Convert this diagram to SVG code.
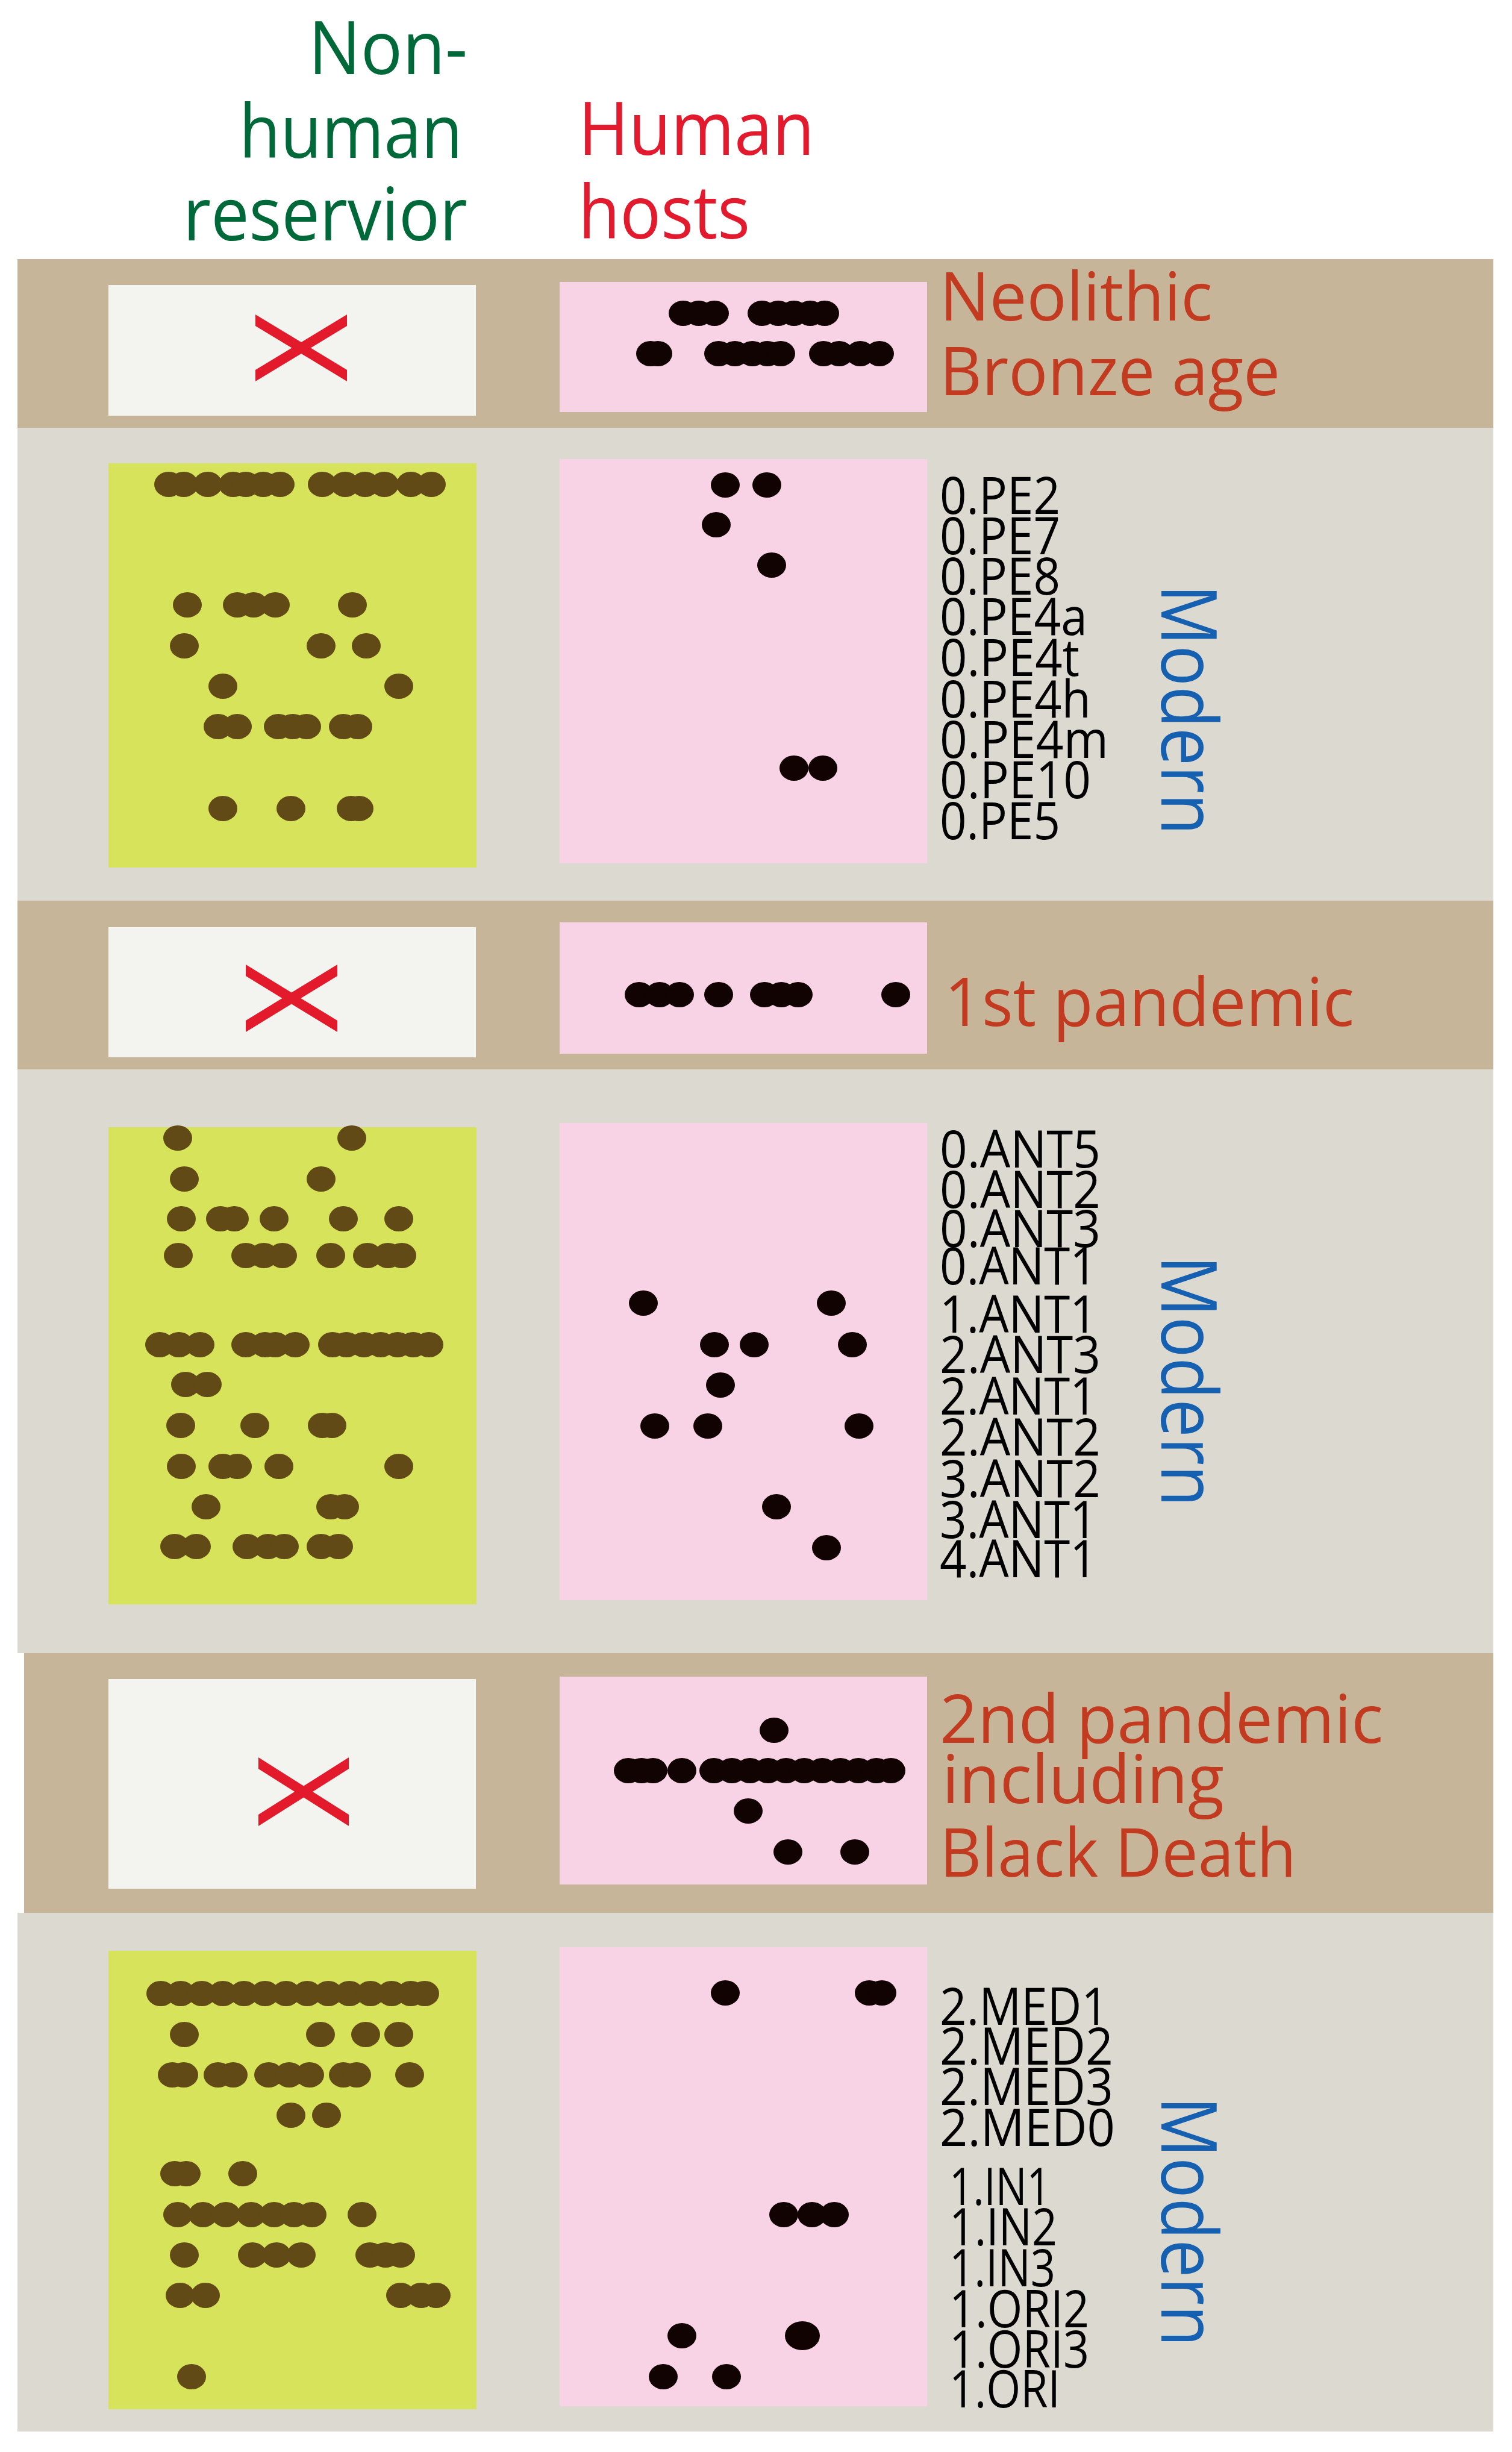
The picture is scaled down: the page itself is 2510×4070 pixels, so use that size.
<svg xmlns="http://www.w3.org/2000/svg" xmlns:xlink="http://www.w3.org/1999/xlink" width="2510" height="4070" viewBox="0 0 2510 4070">
<style>
text{font-family:"Open Sans","Liberation Sans",sans-serif}
.tg{font-size:122px;fill:#00693a}
.tr{font-size:122px;fill:#e3192e}
.per{font-size:112px;fill:#c23a1f}
.lab{font-size:86px;fill:#000}
.mod{font-size:128px;fill:#1560b0}
.tan{fill:#c7b59a}
.grey{fill:#dcd9d1}
.wbox{fill:#f3f4ef}
.pbox{fill:#f8d3e6}
.gbox{fill:#d8e35c}
.x{fill:#e3192c}
</style>
<defs>
<ellipse id="g" cx="0" cy="0" rx="24" ry="21" fill="#614a16"/>
<ellipse id="b" cx="0" cy="0" rx="24" ry="21" fill="#120303"/>
</defs>
<rect width="2510" height="4070" fill="#ffffff"/>

<g id="headers">
<text class="tg" x="512" y="123" textLength="264" lengthAdjust="spacingAndGlyphs">Non-</text>
<text class="tg" x="397" y="262" textLength="371" lengthAdjust="spacingAndGlyphs">human</text>
<text class="tg" x="304" y="399" textLength="472" lengthAdjust="spacingAndGlyphs">reservior</text>
<text class="tr" x="960" y="257" textLength="392" lengthAdjust="spacingAndGlyphs">Human</text>
<text class="tr" x="960" y="396" textLength="285" lengthAdjust="spacingAndGlyphs">hosts</text>
</g>

<g id="bands">
<rect class="tan" x="29" y="430" width="2450" height="280"/>
<rect class="grey" x="29" y="710" width="2450" height="785"/>
<rect class="tan" x="29" y="1495" width="2450" height="280"/>
<rect class="grey" x="29" y="1775" width="2450" height="969"/>
<rect class="tan" x="40" y="2744" width="2439" height="431"/>
<rect class="grey" x="29" y="3175" width="2450" height="861"/>
</g>

<g id="neolithic">
<rect class="wbox" x="180" y="473" width="610" height="217"/>
<polygon class="x" points="424,522 424,541 576,633 576,614"/>
<polygon class="x" points="576,522 576,541 424,633 424,614"/>
<rect class="pbox" x="929" y="468" width="610" height="216"/>
<use xlink:href="#b" x="1134" y="520"/><use xlink:href="#b" x="1160" y="520"/><use xlink:href="#b" x="1186" y="520"/>
<use xlink:href="#b" x="1265" y="520"/><use xlink:href="#b" x="1292" y="520"/><use xlink:href="#b" x="1318" y="520"/><use xlink:href="#b" x="1345" y="520"/><use xlink:href="#b" x="1369" y="520"/>
<use xlink:href="#b" x="1080" y="587"/><use xlink:href="#b" x="1092" y="587"/>
<use xlink:href="#b" x="1193" y="587"/><use xlink:href="#b" x="1220" y="587"/><use xlink:href="#b" x="1249" y="587"/><use xlink:href="#b" x="1274" y="587"/><use xlink:href="#b" x="1296" y="587"/>
<use xlink:href="#b" x="1367" y="587"/><use xlink:href="#b" x="1393" y="587"/><use xlink:href="#b" x="1428" y="587"/><use xlink:href="#b" x="1460" y="587"/>
<text class="per" x="1560" y="532" textLength="453" lengthAdjust="spacingAndGlyphs">Neolithic</text>
<text class="per" x="1560" y="656" textLength="565" lengthAdjust="spacingAndGlyphs">Bronze age</text>
</g>

<g id="modern1">
<rect class="gbox" x="180" y="769" width="611" height="671"/>
<use xlink:href="#g" x="280" y="804"/><use xlink:href="#g" x="305" y="804"/><use xlink:href="#g" x="345" y="804"/><use xlink:href="#g" x="387" y="804"/><use xlink:href="#g" x="408" y="804"/><use xlink:href="#g" x="437" y="804"/><use xlink:href="#g" x="465" y="804"/>
<use xlink:href="#g" x="535" y="804"/><use xlink:href="#g" x="573" y="804"/><use xlink:href="#g" x="606" y="804"/><use xlink:href="#g" x="638" y="804"/><use xlink:href="#g" x="682" y="804"/><use xlink:href="#g" x="716" y="804"/>
<use xlink:href="#g" x="311" y="1004"/><use xlink:href="#g" x="394" y="1004"/><use xlink:href="#g" x="421" y="1004"/><use xlink:href="#g" x="457" y="1004"/><use xlink:href="#g" x="585" y="1004"/>
<use xlink:href="#g" x="306" y="1072"/><use xlink:href="#g" x="533" y="1072"/><use xlink:href="#g" x="608" y="1072"/>
<use xlink:href="#g" x="370" y="1139"/><use xlink:href="#g" x="662" y="1139"/>
<use xlink:href="#g" x="362" y="1206"/><use xlink:href="#g" x="394" y="1206"/><use xlink:href="#g" x="462" y="1206"/><use xlink:href="#g" x="486" y="1206"/><use xlink:href="#g" x="509" y="1206"/><use xlink:href="#g" x="570" y="1206"/><use xlink:href="#g" x="594" y="1206"/>
<use xlink:href="#g" x="370" y="1342"/><use xlink:href="#g" x="483" y="1342"/><use xlink:href="#g" x="583" y="1342"/><use xlink:href="#g" x="596" y="1342"/>
<rect class="pbox" x="929" y="762" width="610" height="671"/>
<use xlink:href="#b" x="1204" y="805"/><use xlink:href="#b" x="1273" y="805"/>
<use xlink:href="#b" x="1189" y="871"/>
<use xlink:href="#b" x="1281" y="938"/>
<use xlink:href="#b" x="1318" y="1275"/><use xlink:href="#b" x="1366" y="1275"/>
<text class="lab" x="1560" y="853" textLength="200" lengthAdjust="spacingAndGlyphs">0.PE2</text>
<text class="lab" x="1560" y="920" textLength="200" lengthAdjust="spacingAndGlyphs">0.PE7</text>
<text class="lab" x="1560" y="987" textLength="200" lengthAdjust="spacingAndGlyphs">0.PE8</text>
<text class="lab" x="1560" y="1054" textLength="245" lengthAdjust="spacingAndGlyphs">0.PE4a</text>
<text class="lab" x="1560" y="1122" textLength="232" lengthAdjust="spacingAndGlyphs">0.PE4t</text>
<text class="lab" x="1560" y="1191" textLength="251" lengthAdjust="spacingAndGlyphs">0.PE4h</text>
<text class="lab" x="1560" y="1258" textLength="280" lengthAdjust="spacingAndGlyphs">0.PE4m</text>
<text class="lab" x="1560" y="1325" textLength="251" lengthAdjust="spacingAndGlyphs">0.PE10</text>
<text class="lab" x="1560" y="1393" textLength="200" lengthAdjust="spacingAndGlyphs">0.PE5</text>
<text class="mod" transform="translate(1928,970) rotate(90)" textLength="416" lengthAdjust="spacingAndGlyphs">Modern</text>
</g>

<g id="pandemic1">
<rect class="wbox" x="180" y="1539" width="610" height="216"/>
<polygon class="x" points="408,1601 408,1620 560,1713 560,1694"/>
<polygon class="x" points="560,1601 560,1620 408,1713 408,1694"/>
<rect class="pbox" x="929" y="1531" width="610" height="218"/>
<use xlink:href="#b" x="1061" y="1651"/><use xlink:href="#b" x="1095" y="1651"/><use xlink:href="#b" x="1128" y="1651"/>
<use xlink:href="#b" x="1193" y="1651"/>
<use xlink:href="#b" x="1269" y="1651"/><use xlink:href="#b" x="1297" y="1651"/><use xlink:href="#b" x="1325" y="1651"/>
<use xlink:href="#b" x="1487" y="1651"/>
<text class="per" x="1568" y="1703" textLength="680" lengthAdjust="spacingAndGlyphs">1st pandemic</text>
</g>

<g id="modern2">
<rect class="gbox" x="180" y="1871" width="611" height="792"/>
<use xlink:href="#g" x="295" y="1889"/><use xlink:href="#g" x="584" y="1889"/>
<use xlink:href="#g" x="306" y="1957"/><use xlink:href="#g" x="533" y="1957"/>
<use xlink:href="#g" x="301" y="2023"/><use xlink:href="#g" x="366" y="2023"/><use xlink:href="#g" x="389" y="2023"/><use xlink:href="#g" x="455" y="2023"/><use xlink:href="#g" x="570" y="2023"/><use xlink:href="#g" x="662" y="2023"/>
<use xlink:href="#g" x="296" y="2084"/><use xlink:href="#g" x="408" y="2084"/><use xlink:href="#g" x="438" y="2084"/><use xlink:href="#g" x="469" y="2084"/><use xlink:href="#g" x="549" y="2084"/><use xlink:href="#g" x="610" y="2084"/><use xlink:href="#g" x="644" y="2084"/><use xlink:href="#g" x="667" y="2084"/>
<use xlink:href="#g" x="265" y="2232"/><use xlink:href="#g" x="297" y="2232"/><use xlink:href="#g" x="332" y="2232"/>
<use xlink:href="#g" x="408" y="2232"/><use xlink:href="#g" x="440" y="2232"/><use xlink:href="#g" x="457" y="2232"/><use xlink:href="#g" x="490" y="2232"/>
<use xlink:href="#g" x="552" y="2232"/><use xlink:href="#g" x="575" y="2232"/><use xlink:href="#g" x="604" y="2232"/><use xlink:href="#g" x="632" y="2232"/><use xlink:href="#g" x="660" y="2232"/><use xlink:href="#g" x="686" y="2232"/><use xlink:href="#g" x="712" y="2232"/>
<use xlink:href="#g" x="308" y="2298"/><use xlink:href="#g" x="344" y="2298"/>
<use xlink:href="#g" x="300" y="2366"/><use xlink:href="#g" x="423" y="2366"/><use xlink:href="#g" x="535" y="2366"/><use xlink:href="#g" x="551" y="2366"/>
<use xlink:href="#g" x="301" y="2434"/><use xlink:href="#g" x="370" y="2434"/><use xlink:href="#g" x="394" y="2434"/><use xlink:href="#g" x="463" y="2434"/><use xlink:href="#g" x="662" y="2434"/>
<use xlink:href="#g" x="342" y="2501"/><use xlink:href="#g" x="549" y="2501"/><use xlink:href="#g" x="572" y="2501"/>
<use xlink:href="#g" x="290" y="2567"/><use xlink:href="#g" x="326" y="2567"/><use xlink:href="#g" x="410" y="2567"/><use xlink:href="#g" x="445" y="2567"/><use xlink:href="#g" x="472" y="2567"/><use xlink:href="#g" x="533" y="2567"/><use xlink:href="#g" x="562" y="2567"/>
<rect class="pbox" x="929" y="1864" width="610" height="792"/>
<use xlink:href="#b" x="1068" y="2163"/><use xlink:href="#b" x="1380" y="2163"/>
<use xlink:href="#b" x="1186" y="2232"/><use xlink:href="#b" x="1252" y="2232"/><use xlink:href="#b" x="1415" y="2232"/>
<use xlink:href="#b" x="1196" y="2299"/>
<use xlink:href="#b" x="1087" y="2367"/><use xlink:href="#b" x="1175" y="2367"/><use xlink:href="#b" x="1426" y="2367"/>
<use xlink:href="#b" x="1289" y="2501"/>
<use xlink:href="#b" x="1372" y="2569"/>
<text class="lab" x="1560" y="1938" textLength="267" lengthAdjust="spacingAndGlyphs">0.ANT5</text>
<text class="lab" x="1560" y="2005" textLength="267" lengthAdjust="spacingAndGlyphs">0.ANT2</text>
<text class="lab" x="1560" y="2070" textLength="267" lengthAdjust="spacingAndGlyphs">0.ANT3</text>
<text class="lab" x="1560" y="2132" textLength="261" lengthAdjust="spacingAndGlyphs">0.ANT1</text>
<text class="lab" x="1560" y="2212" textLength="261" lengthAdjust="spacingAndGlyphs">1.ANT1</text>
<text class="lab" x="1560" y="2279" textLength="267" lengthAdjust="spacingAndGlyphs">2.ANT3</text>
<text class="lab" x="1560" y="2348" textLength="261" lengthAdjust="spacingAndGlyphs">2.ANT1</text>
<text class="lab" x="1560" y="2416" textLength="267" lengthAdjust="spacingAndGlyphs">2.ANT2</text>
<text class="lab" x="1560" y="2485" textLength="267" lengthAdjust="spacingAndGlyphs">3.ANT2</text>
<text class="lab" x="1560" y="2553" textLength="261" lengthAdjust="spacingAndGlyphs">3.ANT1</text>
<text class="lab" x="1560" y="2618" textLength="261" lengthAdjust="spacingAndGlyphs">4.ANT1</text>
<text class="mod" transform="translate(1928,2084) rotate(90)" textLength="417" lengthAdjust="spacingAndGlyphs">Modern</text>
</g>

<g id="pandemic2">
<rect class="wbox" x="180" y="2787" width="610" height="348"/>
<polygon class="x" points="429,2917 429,2936 579,3031 579,3012"/>
<polygon class="x" points="579,2917 579,2936 429,3031 429,3012"/>
<rect class="pbox" x="929" y="2783" width="610" height="345"/>
<use xlink:href="#b" x="1285" y="2872"/>
<use xlink:href="#b" x="1043" y="2939"/><use xlink:href="#b" x="1065" y="2939"/><use xlink:href="#b" x="1084" y="2939"/><use xlink:href="#b" x="1132" y="2939"/>
<use xlink:href="#b" x="1185" y="2939"/><use xlink:href="#b" x="1215" y="2939"/><use xlink:href="#b" x="1245" y="2939"/><use xlink:href="#b" x="1275" y="2939"/><use xlink:href="#b" x="1305" y="2939"/><use xlink:href="#b" x="1335" y="2939"/><use xlink:href="#b" x="1365" y="2939"/><use xlink:href="#b" x="1395" y="2939"/><use xlink:href="#b" x="1425" y="2939"/><use xlink:href="#b" x="1455" y="2939"/><use xlink:href="#b" x="1479" y="2939"/>
<use xlink:href="#b" x="1242" y="3006"/>
<use xlink:href="#b" x="1308" y="3074"/><use xlink:href="#b" x="1419" y="3074"/>
<text class="per" x="1560" y="2893" textLength="736" lengthAdjust="spacingAndGlyphs">2nd pandemic</text>
<text class="per" x="1564" y="2993" textLength="468" lengthAdjust="spacingAndGlyphs">including</text>
<text class="per" x="1560" y="3115" textLength="592" lengthAdjust="spacingAndGlyphs">Black Death</text>
</g>

<g id="modern3">
<rect class="gbox" x="180" y="3238" width="611" height="761"/>
<use xlink:href="#g" x="267" y="3309"/><use xlink:href="#g" x="300" y="3309"/><use xlink:href="#g" x="335" y="3309"/><use xlink:href="#g" x="370" y="3309"/><use xlink:href="#g" x="405" y="3309"/><use xlink:href="#g" x="440" y="3309"/><use xlink:href="#g" x="475" y="3309"/><use xlink:href="#g" x="510" y="3309"/><use xlink:href="#g" x="545" y="3309"/><use xlink:href="#g" x="580" y="3309"/><use xlink:href="#g" x="615" y="3309"/><use xlink:href="#g" x="650" y="3309"/><use xlink:href="#g" x="682" y="3309"/><use xlink:href="#g" x="705" y="3309"/>
<use xlink:href="#g" x="306" y="3377"/><use xlink:href="#g" x="532" y="3377"/><use xlink:href="#g" x="607" y="3377"/><use xlink:href="#g" x="662" y="3377"/>
<use xlink:href="#g" x="286" y="3444"/><use xlink:href="#g" x="305" y="3444"/><use xlink:href="#g" x="362" y="3444"/><use xlink:href="#g" x="387" y="3444"/><use xlink:href="#g" x="446" y="3444"/><use xlink:href="#g" x="480" y="3444"/><use xlink:href="#g" x="514" y="3444"/><use xlink:href="#g" x="570" y="3444"/><use xlink:href="#g" x="592" y="3444"/><use xlink:href="#g" x="680" y="3444"/>
<use xlink:href="#g" x="483" y="3511"/><use xlink:href="#g" x="542" y="3511"/>
<use xlink:href="#g" x="290" y="3608"/><use xlink:href="#g" x="309" y="3608"/><use xlink:href="#g" x="403" y="3608"/>
<use xlink:href="#g" x="295" y="3676"/><use xlink:href="#g" x="337" y="3676"/><use xlink:href="#g" x="375" y="3676"/><use xlink:href="#g" x="417" y="3676"/><use xlink:href="#g" x="455" y="3676"/><use xlink:href="#g" x="488" y="3676"/><use xlink:href="#g" x="518" y="3676"/><use xlink:href="#g" x="601" y="3676"/>
<use xlink:href="#g" x="306" y="3743"/><use xlink:href="#g" x="419" y="3743"/><use xlink:href="#g" x="459" y="3743"/><use xlink:href="#g" x="500" y="3743"/><use xlink:href="#g" x="614" y="3743"/><use xlink:href="#g" x="640" y="3743"/><use xlink:href="#g" x="665" y="3743"/>
<use xlink:href="#g" x="299" y="3810"/><use xlink:href="#g" x="341" y="3810"/><use xlink:href="#g" x="665" y="3810"/><use xlink:href="#g" x="699" y="3810"/><use xlink:href="#g" x="724" y="3810"/>
<use xlink:href="#g" x="318" y="3945"/>
<rect class="pbox" x="929" y="3232" width="610" height="762"/>
<use xlink:href="#b" x="1204" y="3308"/><use xlink:href="#b" x="1443" y="3308"/><use xlink:href="#b" x="1464" y="3308"/>
<use xlink:href="#b" x="1301" y="3676"/><use xlink:href="#b" x="1348" y="3676"/><use xlink:href="#b" x="1385" y="3676"/>
<use xlink:href="#b" x="1132" y="3877"/>
<ellipse cx="1332" cy="3877" rx="29" ry="24" fill="#120303"/>
<use xlink:href="#b" x="1101" y="3945"/><use xlink:href="#b" x="1206" y="3945"/>
<text class="lab" x="1560" y="3361" textLength="280" lengthAdjust="spacingAndGlyphs">2.MED1</text>
<text class="lab" x="1560" y="3427" textLength="288" lengthAdjust="spacingAndGlyphs">2.MED2</text>
<text class="lab" x="1560" y="3494" textLength="288" lengthAdjust="spacingAndGlyphs">2.MED3</text>
<text class="lab" x="1560" y="3562" textLength="291" lengthAdjust="spacingAndGlyphs">2.MED0</text>
<text class="lab" x="1576" y="3660" textLength="168" lengthAdjust="spacingAndGlyphs">1.IN1</text>
<text class="lab" x="1576" y="3727" textLength="179" lengthAdjust="spacingAndGlyphs">1.IN2</text>
<text class="lab" x="1576" y="3795" textLength="176" lengthAdjust="spacingAndGlyphs">1.IN3</text>
<text class="lab" x="1576" y="3863" textLength="232" lengthAdjust="spacingAndGlyphs">1.ORI2</text>
<text class="lab" x="1576" y="3930" textLength="232" lengthAdjust="spacingAndGlyphs">1.ORI3</text>
<text class="lab" x="1576" y="3996" textLength="184" lengthAdjust="spacingAndGlyphs">1.ORI</text>
<text class="mod" transform="translate(1928,3480) rotate(90)" textLength="415" lengthAdjust="spacingAndGlyphs">Modern</text>
</g>

<g id="connectors"></g>
</svg>
